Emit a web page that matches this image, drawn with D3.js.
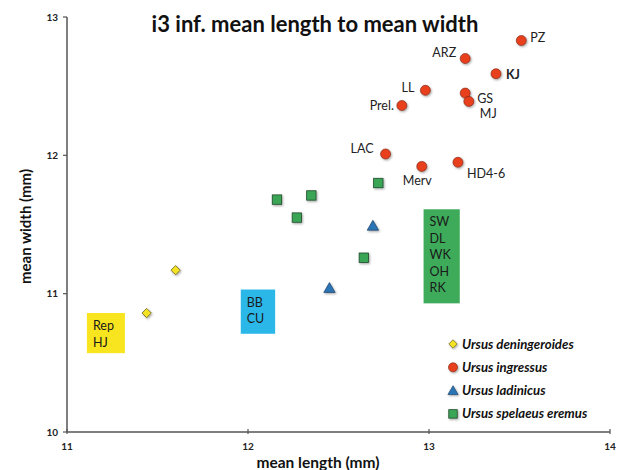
<!DOCTYPE html>
<html>
<head>
<meta charset="utf-8">
<script src="https://d3js.org/d3.v7.min.js"></script>
<style>
  body { margin: 0; background: #fff; }
  svg { display: block; font-family: Lato, "Open Sans", sans-serif; }
</style>
</head>
<body>
<div id="chart"></div>
<script>
// species and their points [mean length, mean width]
const species = ["Ursus deningeroides", "Ursus ingressus", "Ursus ladinicus", "Ursus spelaeus eremus"];

const deningeroidesPts = [[11.60, 11.17], [11.44, 10.86]];
const ingressusNames = ["PZ", "ARZ", "KJ", "LL", "GS", "MJ", "Prel.", "LAC", "Merv", "HD4-6"];
const ingressusPts = [
  [13.51, 12.83], [13.20, 12.70], [13.37, 12.59], [12.98, 12.47], [13.20, 12.45],
  [13.22, 12.39], [12.85, 12.36], [12.76, 12.01], [12.96, 11.92], [13.16, 11.95]
];
const ladinicusPts = [[12.69, 11.49], [12.45, 11.04]];
const eremusPts = [[12.16, 11.68], [12.35, 11.71], [12.27, 11.55], [12.64, 11.26], [12.72, 11.80]];

// site-list boxes: [x0, x1, y0, y1] in data units, with their site names
const boxRanges = [[11.11, 11.32, 10.57, 10.86], [11.96, 12.15, 10.71, 11.03], [12.97, 13.17, 10.93, 11.61]];
const boxSites = [["Rep", "HJ"], ["BB", "CU"], ["SW", "DL", "WK", "OH", "RK"]];

const xTicks = [11, 12, 13, 14];
const yTicks = [10, 11, 12, 13];

// styling
const colors = { den: "#f3e324", ing: "#e8411d", lad: "#2c74b5", ere: "#3ba557" };
const boxColors = ["#f8e51f", "#2bb8e9", "#3eab5b"];
// label offsets [dx, dy, anchor, bold]
const labelPlace = {
  "PZ": [9, -3, "start"], "ARZ": [-9, -6, "end"], "KJ": [10, 1, "start", true],
  "LL": [-11, -2, "end"], "GS": [12, 6, "start"], "MJ": [11, 13, "start"],
  "Prel.": [-8, 0, "end"], "LAC": [-12, -5, "end"], "Merv": [-19, 15, "start"],
  "HD4-6": [9, 12, "start"]
};

const W = 628, H = 470;
const x = d3.scaleLinear().domain([11, 14]).range([67, 610]);
const y = d3.scaleLinear().domain([10, 13]).range([432, 17]);

const svg = d3.select("#chart").append("svg").attr("width", W).attr("height", H);

const defs = svg.append("defs");
defs.append("filter").attr("id", "sh").attr("x", "-50%").attr("y", "-50%").attr("width", "200%").attr("height", "200%")
  .append("feDropShadow").attr("dx", 1).attr("dy", 1.2).attr("stdDeviation", 0.9)
  .attr("flood-color", "#000").attr("flood-opacity", 0.35);

// title
svg.append("text").attr("x", 315).attr("y", 32).attr("text-anchor", "middle")
  .attr("font-size", 22).attr("font-weight", "bold").attr("fill", "#111")
  .text("i3 inf. mean length to mean width");

// boxes
boxRanges.forEach((b, i) => {
  svg.append("rect")
    .attr("x", x(b[0])).attr("y", y(b[3]))
    .attr("width", x(b[1]) - x(b[0])).attr("height", y(b[2]) - y(b[3]))
    .attr("fill", boxColors[i]);
  boxSites[i].forEach((s, j) => {
    svg.append("text").attr("x", x(b[0]) + 6).attr("y", y(b[3]) + 17 + j * 16.5)
      .attr("font-size", 12.5).attr("fill", "#1a1a1a").text(s);
  });
});

// axes
const axisColor = "#555";
svg.append("line").attr("x1", x(11)).attr("x2", x(11)).attr("y1", y(13)).attr("y2", y(10))
  .attr("stroke", axisColor).attr("stroke-width", 1.5);
svg.append("line").attr("x1", x(11)).attr("x2", x(14)).attr("y1", y(10)).attr("y2", y(10))
  .attr("stroke", axisColor).attr("stroke-width", 1.5);

yTicks.forEach(v => {
  svg.append("line").attr("x1", x(11) - 4).attr("x2", x(11)).attr("y1", y(v)).attr("y2", y(v))
    .attr("stroke", axisColor).attr("stroke-width", 1.2);
  svg.append("text").attr("x", x(11) - 9).attr("y", y(v) + 3.5).attr("text-anchor", "end")
    .attr("font-size", 10).attr("font-weight", "bold").attr("fill", "#222").text(v);
});
xTicks.forEach(v => {
  svg.append("line").attr("x1", x(v)).attr("x2", x(v)).attr("y1", y(10) - 3).attr("y2", y(10) + 2)
    .attr("stroke", axisColor).attr("stroke-width", 1.2);
  svg.append("text").attr("x", x(v)).attr("y", y(10) + 18).attr("text-anchor", "middle")
    .attr("font-size", 10).attr("font-weight", "bold").attr("fill", "#222").text(v);
});

svg.append("text").attr("transform", `translate(31,${(y(10) + y(13)) / 2 + 2}) rotate(-90)`)
  .attr("text-anchor", "middle").attr("font-size", 15).attr("font-weight", "bold").attr("fill", "#111")
  .text("mean width (mm)");
svg.append("text").attr("x", 318).attr("y", 468).attr("text-anchor", "middle")
  .attr("font-size", 15.5).attr("font-weight", "bold").attr("fill", "#111")
  .text("mean length (mm)");

// marker drawing
const sym = {
  den: d3.symbol().type(d3.symbolDiamond2).size(55),
  lad: d3.symbol().type(d3.symbolTriangle).size(56),
};
function marker(g, kind, cx, cy, s = 1) {
  if (kind === "ing") {
    g.append("circle").attr("cx", cx).attr("cy", cy).attr("r", 5 * s)
      .attr("fill", colors.ing).attr("stroke", "#7a2010").attr("stroke-width", 0.6).attr("filter", "url(#sh)");
  } else if (kind === "ere") {
    g.append("rect").attr("x", cx - 4.7 * s).attr("y", cy - 4.7 * s).attr("width", 9.4 * s).attr("height", 9.4 * s)
      .attr("fill", colors.ere).attr("stroke", "#1f4a2a").attr("stroke-width", 0.8).attr("filter", "url(#sh)");
  } else if (kind === "lad") {
    g.append("path").attr("d", sym.lad()).attr("transform", `translate(${cx},${cy + 1}) scale(${s})`)
      .attr("fill", colors.lad).attr("stroke", "#1a3f66").attr("stroke-width", 0.7).attr("filter", "url(#sh)");
  } else {
    g.append("path").attr("d", sym.den()).attr("transform", `translate(${cx},${cy}) scale(${s})`)
      .attr("fill", colors.den).attr("stroke", "#6a6020").attr("stroke-width", 0.8).attr("filter", "url(#sh)");
  }
}

const pts = svg.append("g");
deningeroidesPts.forEach(d => marker(pts, "den", x(d[0]), y(d[1])));
eremusPts.forEach(d => marker(pts, "ere", x(d[0]), y(d[1])));
ladinicusPts.forEach(d => marker(pts, "lad", x(d[0]), y(d[1])));
ingressusPts.forEach((d, i) => {
  marker(pts, "ing", x(d[0]), y(d[1]));
  const p = labelPlace[ingressusNames[i]];
  svg.append("text").attr("x", x(d[0]) + p[0]).attr("y", y(d[1]) + p[1] + 4)
    .attr("text-anchor", p[2]).attr("font-size", 12.5)
    .attr("font-weight", p[3] ? "bold" : "normal").attr("fill", "#222")
    .text(ingressusNames[i]);
});

// legend
const kinds = ["den", "ing", "lad", "ere"];
const leg = svg.append("g").attr("transform", "translate(453,344)");
species.forEach((s, i) => {
  const gy = i * 23.3;
  marker(leg, kinds[i], 0, gy, 0.9);
  leg.append("text").attr("x", 9).attr("y", gy + 4.5)
    .attr("font-size", 13.2).attr("font-weight", "bold").attr("font-style", "italic").attr("fill", "#111")
    .text(s);
});
</script>
</body>
</html>
